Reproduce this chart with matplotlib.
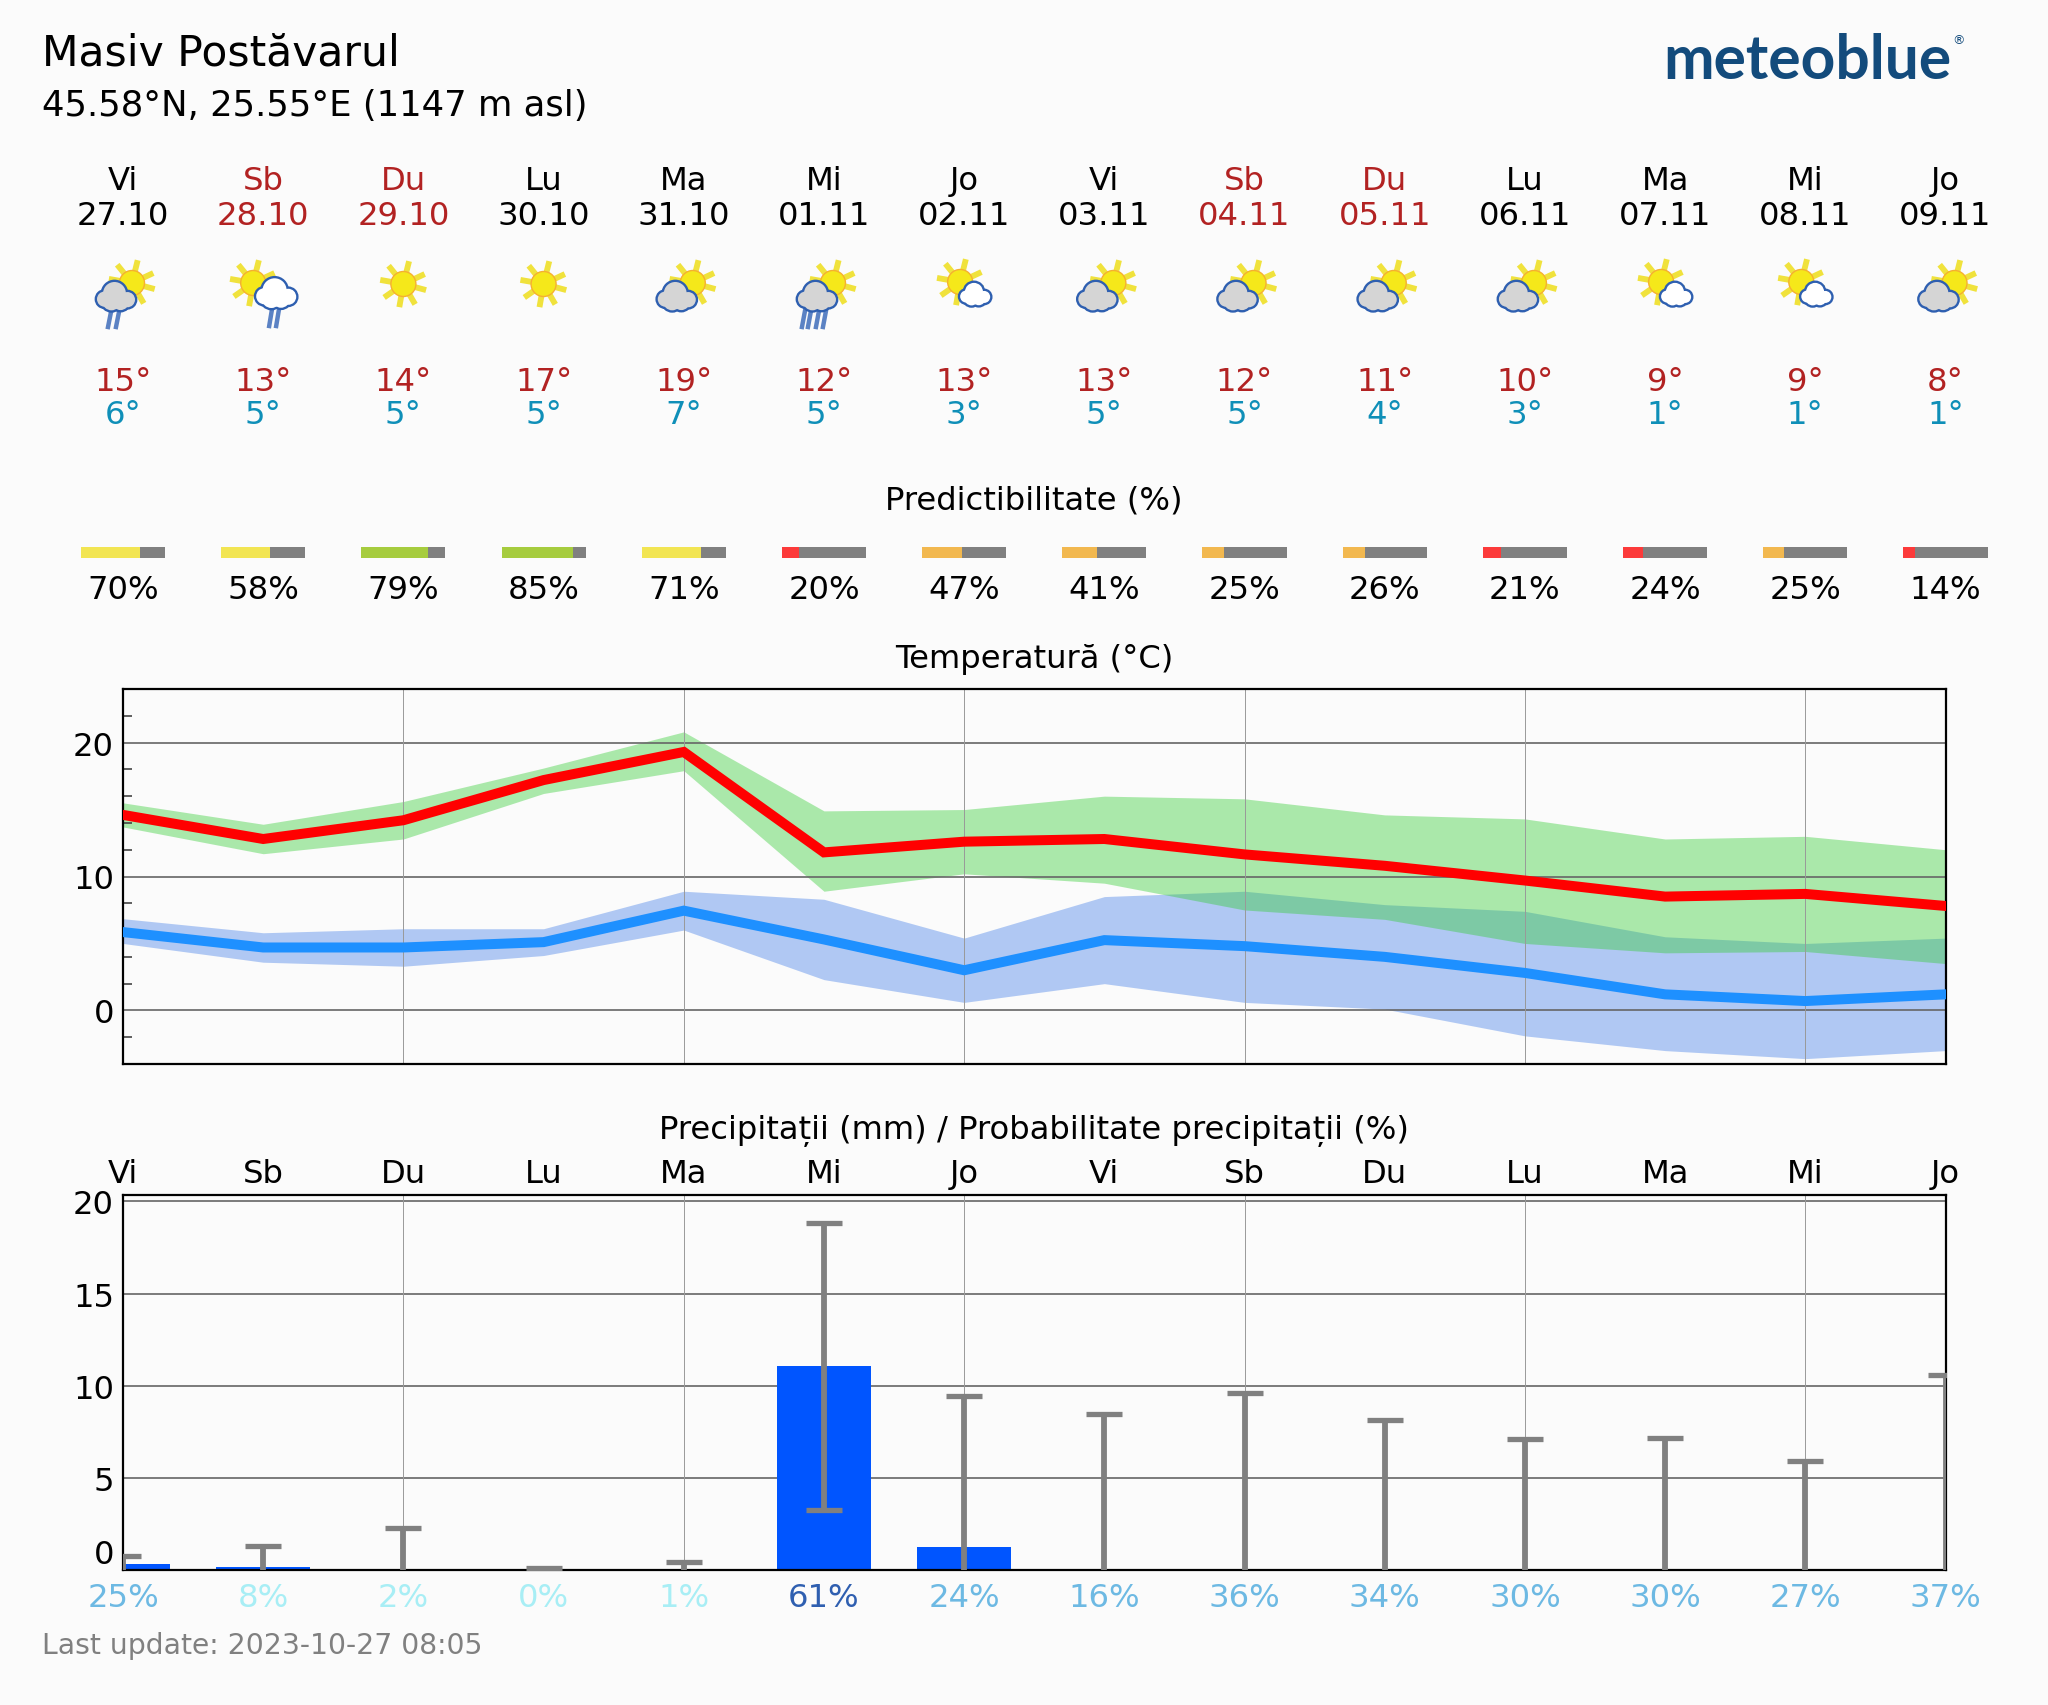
import math
import matplotlib
matplotlib.use("Agg")
import matplotlib.pyplot as plt
from matplotlib.patches import Circle

# forecast data
day_names = ["Vi", "Sb", "Du", "Lu", "Ma", "Mi", "Jo", "Vi", "Sb", "Du", "Lu", "Ma", "Mi", "Jo"]
dates = ["27.10", "28.10", "29.10", "30.10", "31.10", "01.11", "02.11", "03.11", "04.11", "05.11", "06.11", "07.11", "08.11", "09.11"]
temp_max_label = [15, 13, 14, 17, 19, 12, 13, 13, 12, 11, 10, 9, 9, 8]
temp_min_label = [6, 5, 5, 5, 7, 5, 3, 5, 5, 4, 3, 1, 1, 1]
predictability = [70, 58, 79, 85, 71, 20, 47, 41, 25, 26, 21, 24, 25, 14]

tmax = [14.6, 12.8, 14.2, 17.2, 19.3, 11.8, 12.6, 12.8, 11.65, 10.8, 9.7, 8.5, 8.7, 7.8]
tmax_hi = [15.5, 13.9, 15.6, 18.1, 20.8, 14.9, 15.0, 16.0, 15.8, 14.6, 14.3, 12.8, 13.0, 12.0]
tmax_lo = [13.7, 11.7, 12.8, 16.2, 17.9, 8.9, 10.2, 9.5, 7.5, 6.8, 5.0, 4.3, 4.4, 3.5]
tmin = [5.85, 4.7, 4.7, 5.1, 7.45, 5.3, 3.0, 5.25, 4.8, 4.0, 2.8, 1.2, 0.7, 1.2]
tmin_hi = [6.85, 5.8, 6.1, 6.1, 8.9, 8.3, 5.4, 8.5, 8.9, 7.9, 7.4, 5.5, 5.0, 5.4]
tmin_lo = [5.0, 3.6, 3.3, 4.1, 6.0, 2.3, 0.6, 2.0, 0.6, 0.1, -1.9, -3.0, -3.6, -3.0]

rain = [0.3, 0.15, 0, 0, 0, 11.07, 1.23, 0, 0, 0, 0, 0, 0, 0]
rain_hi = [0.78, 1.29, 2.28, 0.1, 0.45, 18.84, 9.44, 8.46, 9.58, 8.13, 7.12, 7.17, 5.93, 10.6]
rain_lo = [-1, -1, -1, -1, -1, 3.25, -1, -1, -1, -1, -1, -1, -1, -1]
rain_prob = [25, 8, 2, 0, 1, 61, 24, 16, 36, 34, 30, 30, 27, 37]

# (cloud type, number of rain strokes)
icons = [("grey", 2), ("white", 2), (None, 0), (None, 0), ("grey", 0), ("grey", 4), ("white", 0),
         ("grey", 0), ("grey", 0), ("grey", 0), ("grey", 0), ("white", 0), ("white", 0), ("grey", 0)]

days = list(range(14))
W, H = 2048, 1706
LEFT, RIGHT = 123, 1945.5
BG = "#fbfbfb"
RED_TXT = "#b22222"
FS = 11.6

plt.rcParams["font.family"] = "DejaVu Sans"
fig = plt.figure(figsize=(W / 200, H / 200), dpi=200, facecolor=BG)


def add_px_axes(top, bottom):
    return fig.add_axes([LEFT / W, 1 - bottom / H, (RIGHT - LEFT) / W, (bottom - top) / H])


def pred_color(p):
    if p < 25:
        return "#fc3a3a"
    if p < 50:
        return "#f2b84f"
    if p < 75:
        return "#f2e552"
    return "#a6cc3e"


def prob_color(p):
    if p < 10:
        return "#a8eef5"
    if p < 50:
        return "#6db9e3"
    return "#2f5fb0"


# temperature panel
ax_t = add_px_axes(690, 1065)
ax_t.set_facecolor(BG)
ax_t.fill_between(days, tmin_lo, tmin_hi, color="#417de8", alpha=0.4, lw=0, zorder=1)
ax_t.fill_between(days, tmax_lo, tmax_hi, color="limegreen", alpha=0.4, lw=0, zorder=1.1)
ax_t.plot(days, tmax, color="red", lw=3.6, zorder=3, solid_joinstyle="miter")
ax_t.plot(days, tmin, color="dodgerblue", lw=3.6, zorder=3, solid_joinstyle="miter")
ax_t.set_xlim(0, 13)
ax_t.set_ylim(-4, 24)
ax_t.set_yticks([0, 10, 20])
ax_t.set_yticks(list(range(-2, 24, 2)), minor=True)
ax_t.set_xticks([])
ax_t.tick_params(axis="y", which="major", length=0, labelsize=FS, pad=3.2)
ax_t.tick_params(axis="y", which="minor", direction="in", length=3.2, width=0.6, color="#444444")
for v in [0, 10, 20]:
    ax_t.axhline(v, color="#666666", lw=0.6, zorder=1.5)
for d in range(2, 13, 2):
    ax_t.axvline(d, color="#999999", lw=0.35, zorder=1.5)

# precipitation panel
ax_r = add_px_axes(1196, 1571)
ax_r.set_facecolor(BG)
ax_r.bar(days, rain, width=0.67, color="#0055ff", zorder=2)
upper = [h - r for h, r in zip(rain_hi, rain)]
lower = [r - l for r, l in zip(rain, rain_lo)]
ax_r.errorbar(days, rain, yerr=[lower, upper], fmt="none", ecolor="#808080",
              elinewidth=2.1, capsize=6.5, capthick=1.9, zorder=3)
ax_r.set_xlim(0, 13)
ax_r.set_ylim(0, 20.35)
ax_r.set_yticks([0, 5, 10, 15, 20])
ax_r.xaxis.tick_top()
ax_r.set_xticks(days)
ax_r.set_xticklabels(day_names)
ax_r.tick_params(axis="y", length=0, labelsize=FS, pad=3.2)
ax_r.tick_params(axis="x", length=0, labelsize=FS, pad=2.1)
ax_r.get_yticklabels()[0].set_va("bottom")
for v in [5, 10, 15, 20]:
    ax_r.axhline(v, color="#666666", lw=0.6, zorder=1.5)
for d in range(2, 13, 2):
    ax_r.axvline(d, color="#999999", lw=0.35, zorder=1.5)

# header overlay: x in days, y in pixels
ax_h = fig.add_axes([LEFT / W, 0, (RIGHT - LEFT) / W, 1])
ax_h.set_xlim(0, 13)
ax_h.set_ylim(H, 0)
ax_h.axis("off")

for i in days:
    c = RED_TXT if day_names[i] in ("Sb", "Du") else "black"
    ax_h.text(i, 181, day_names[i], color=c, fontsize=FS, ha="center", va="center")
    ax_h.text(i, 216, dates[i], color=c, fontsize=FS, ha="center", va="center")
    ax_h.text(i, 382, f"{temp_max_label[i]}°", color=RED_TXT, fontsize=FS, ha="center", va="center")
    ax_h.text(i, 415, f"{temp_min_label[i]}°", color="#0f8fb8", fontsize=FS, ha="center", va="center")
    ax_h.text(i, 590, f"{predictability[i]}%", color="black", fontsize=FS, ha="center", va="center")
    ax_h.text(i, 1599, f"{rain_prob[i]}%", color=prob_color(rain_prob[i]), fontsize=FS, ha="center", va="center")

bar_w = 0.6
pred_frac = [p / 100 * bar_w for p in predictability]
ax_h.barh([553.5] * 14, [bar_w - f for f in pred_frac], left=[i - bar_w / 2 + f for i, f in zip(days, pred_frac)],
          height=11, color="#808080", clip_on=False)
ax_h.barh([553.5] * 14, pred_frac, left=[i - bar_w / 2 for i in days], height=11,
          color=[pred_color(p) for p in predictability], clip_on=False)

ax_h.text(6.5, 501, "Predictibilitate (%)", fontsize=FS, ha="center", va="center")
ax_h.text(6.5, 659, "Temperatură (°C)", fontsize=FS, ha="center", va="center")
ax_h.text(6.5, 1131, "Precipitații (mm) / Probabilitate precipitații (%)", fontsize=FS, ha="center", va="center")

# page-level text and icons in plain pixels
ax_p = fig.add_axes([0, 0, 1, 1])
ax_p.set_xlim(0, W)
ax_p.set_ylim(H, 0)
ax_p.axis("off")
ax_p.text(42, 53, "Masiv Postăvarul", fontsize=15.3, va="center")
ax_p.text(42, 106, "45.58°N, 25.55°E (1147 m asl)", fontsize=12.8, va="center")
ax_p.text(42, 1646.5, "Last update: 2023-10-27 08:05", fontsize=10.2, color="#808080", va="center")
ax_p.text(1663, 79, "meteoblue", fontsize=21.8, color="#134b7c", family="Lato", weight="bold", va="baseline")
ax_p.text(1958, 41, "®", fontsize=4.5, color="#134b7c", ha="center", va="center")


def draw_sun(cx, cy):
    for a in [76, 25, -15, -60, -100, -145, 170, 129]:
        ca, sa = math.cos(math.radians(a)), math.sin(math.radians(a))
        ax_p.plot([cx + 12 * ca, cx + 23.5 * ca], [cy - 12 * sa, cy - 23.5 * sa],
                  color="#f0e23c", lw=2.1, solid_capstyle="butt", zorder=4)
    ax_p.add_patch(Circle((cx, cy), 12.5, fc="#f5e81a", ec="#f5b030", lw=0.5, zorder=5))


def draw_cloud(cx, cy, w, h, fill):
    # blobs: outlines first, then the fill on top, so only the outer rim stays
    blobs = [(-0.3 * w, 0.12 * h, 0.2 * w), (-0.04 * w, -0.1 * h, 0.3 * w), (0.3 * w, 0.14 * h, 0.2 * w),
             (-0.12 * w, 0.2 * h, 0.24 * w), (0.12 * w, 0.22 * h, 0.22 * w)]
    for dx, dy, r in blobs:
        ax_p.add_patch(Circle((cx + dx, cy + dy), r, fc="none", ec="#2e5fb0", lw=1.7, zorder=6))
    for dx, dy, r in blobs:
        ax_p.add_patch(Circle((cx + dx, cy + dy), r, fc=fill, ec="none", zorder=6.4))


def draw_rain(xs, top, bottom):
    for x in xs:
        ax_p.plot([x + 2, x - 1], [top, bottom], color="#5b82c4", lw=1.6, zorder=4)


day_w = (RIGHT - LEFT) / 13
for i, (cloud, drops) in enumerate(icons):
    xc = LEFT + i * day_w
    if cloud is None:
        draw_sun(xc, 285)
    elif cloud == "grey":
        draw_sun(xc + 9, 284)
        draw_cloud(xc - 7, 297, 38, 26, "#d5d5d5")
        if drops == 2:
            draw_rain([xc - 14, xc - 6], 313, 328)
        elif drops == 4:
            draw_rain([xc - 21, xc - 15, xc - 7, xc], 312, 328)
    else:
        if drops == 2:
            draw_sun(xc - 10, 284)
            draw_cloud(xc + 13, 294, 40, 27, "white")
            draw_rain([xc + 7, xc + 14], 309, 327)
        else:
            draw_sun(xc - 4, 283)
            draw_cloud(xc + 11, 295, 30, 21, "white")

fig.savefig("out.png", dpi=200, facecolor=BG)
